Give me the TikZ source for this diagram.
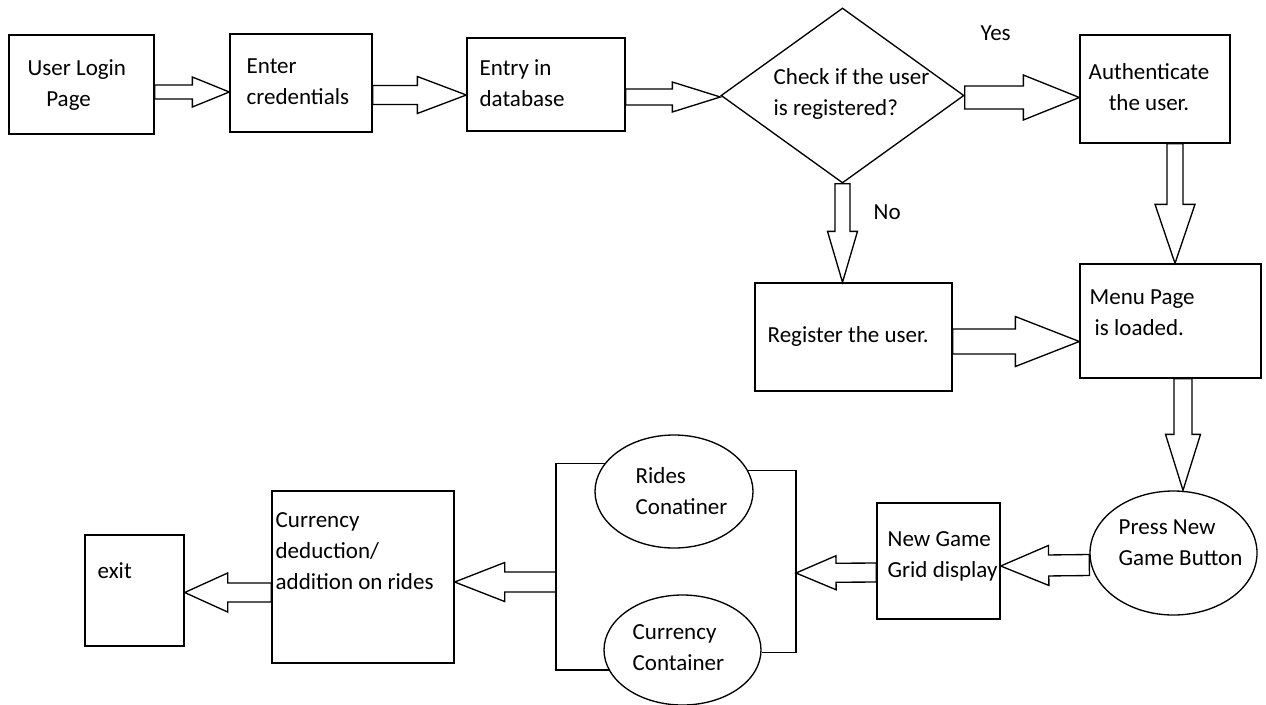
\documentclass[tikz,border=0pt]{standalone}
\usepackage{fontspec}
\setmainfont{Carlito}
\usepackage{tikz}
\usetikzlibrary{calc, shapes.geometric, positioning}

\begin{document}
\begin{tikzpicture}[
    x=0.75pt, y=-0.75pt,
    line width=1pt,
    sz/.style 2 args={minimum width=#1*0.75pt, minimum height=#2*0.75pt},
    box/.style={rectangle, draw, inner sep=0pt},
    oval/.style={ellipse, draw, inner sep=0pt},
    decision/.style={diamond, draw, inner sep=0pt},
    txt/.style={anchor=west, align=left, inner sep=0pt, font=\fontsize{17.25}{23.25}\selectfont},
    fat/.style n args={3}{to path={
        let \p1=(\tikztostart), \p2=(\tikztotarget),
            \n1={atan2(\y2-\y1,\x2-\x1)}, \n2={veclen(\x2-\x1,\y2-\y1)} in
        (\p1) ++(\n1+90:#1*0.75pt) -- ++(\n1:\n2-#3*0.75pt)
        -- ++(\n1+90:#2*0.75pt-#1*0.75pt) -- (\p2)
        -- ($(\p2)+(\n1+180:#3*0.75pt)+(\n1-90:#2*0.75pt)$)
        -- ++(\n1+90:#2*0.75pt-#1*0.75pt)
        -- ($(\p1)+(\n1-90:#1*0.75pt)$) -- cycle}}
]
\fill[white] (0,0) rectangle (1266,704);
\useasboundingbox (0,0) rectangle (1266,704);

% top row
\node[box, sz={145}{99}] (login) at (81.5,84.5) {};
\node[box, sz={142}{98}] (creds) at (301,83) {};
\node[box, sz={158}{93}] (entry) at (546,84.5) {};
\node[decision, sz={243}{175}] (check) at (842.5,95.5) {};
\node[box, sz={150}{108}] (auth) at (1155,89) {};

% middle row
\node[box, sz={197}{108}] (register) at (853.5,337) {};
\node[box, sz={181}{114}] (menu) at (1170.5,321) {};

% bottom row
\node[oval, sz={167}{124}] (press) at (1173.5,553) {};
\node[box, sz={123}{116}] (grid) at (938.5,561) {};
\node[oval, sz={158}{113}] (rides) at (674,491.5) {};
\node[oval, sz={157}{110}] (cur) at (682.5,650) {};
\node[box, sz={182}{172}] (deduct) at (363,577) {};
\node[box, sz={99}{111}] (exit) at (134.5,590.5) {};

% texts
\node[txt] (logintxt) at (27,85.5) {User Login\\\hspace*{14pt}Page};
\node[txt] (credstxt) at (246,81.5) {Enter\\credentials};
\node[txt] (entrytxt) at (479,83.5) {Entry in\\database};
\node[txt] (checktxt) at (773,94) {Check if the user\\is registered?};
\node[txt, anchor=center, align=center] (authtxt) at (1149,87.5) {Authenticate\\the user.};
\node[txt] (regtxt) at (767,336) {Register the user.};
\node[txt] (menutxt) at (1089,312.5) {Menu Page\\\hspace*{3.75pt}is loaded.};
\node[txt] (presstxt) at (1118,543) {Press New\\Game Button};
\node[txt] (gridtxt) at (887,556) {New Game\\Grid display};
\node[txt] (ridestxt) at (635,491) {Rides\\Conatiner};
\node[txt] (curtxt) at (632,648) {Currency\\Container};
\node[txt] (deducttxt) at (275,551.5) {Currency\\deduction/\\addition on rides};
\node[txt] (exittxt) at (97,571) {exit};
\node[txt] (yes) at (980,33) {Yes};
\node[txt] (no) at (873,212) {No};

% bracket round the two containers
\coordinate (joinL) at (556,582);
\coordinate (joinR) at (796,573);
\draw (rides.158) -| (joinL) |- (cur.-165);
\draw (rides.16) -| (joinR) |- (cur.-2);

% arrows
\draw (login.east |- 0,92) to[fat={7}{15}{37}] (creds.west |- 0,92);
\draw (creds.east |- 0,95) to[fat={9.5}{18.5}{49}] (entry.west |- 0,95);
\draw (entry.east |- 0,97) to[fat={8}{15}{48}] (check.west |- 0,97);
\draw (check.east |- 0,97.5) to[fat={11.5}{22.5}{56}] (auth.west |- 0,97.5);
\draw (check.south) to[fat={7.5}{15}{51}] (register.north -| check.south);
\draw (auth.south -| 1175,0) to[fat={8}{20}{59}] (menu.north -| 1175,0);
\draw (register.east |- 0,341.5) to[fat={12.5}{25}{64}] (menu.west |- 0,341.5);
\draw (menu.south -| 1183,0) to[fat={9}{17.5}{56}] (press.north -| 1183,0);
\draw (press.west |- 0,565) to[fat={10.5}{20}{48}] (grid.east |- 0,566);
\draw (grid.west |- 0,572.5) to[fat={9.5}{17}{40}] (joinR);
\draw (joinL) to[fat={10}{19.5}{50}] (deduct.east |- 0,582);
\draw (deduct.west |- 0,592.5) to[fat={9.5}{19.5}{43}] (exit.east |- 0,592.5);

\end{tikzpicture}
\end{document}
